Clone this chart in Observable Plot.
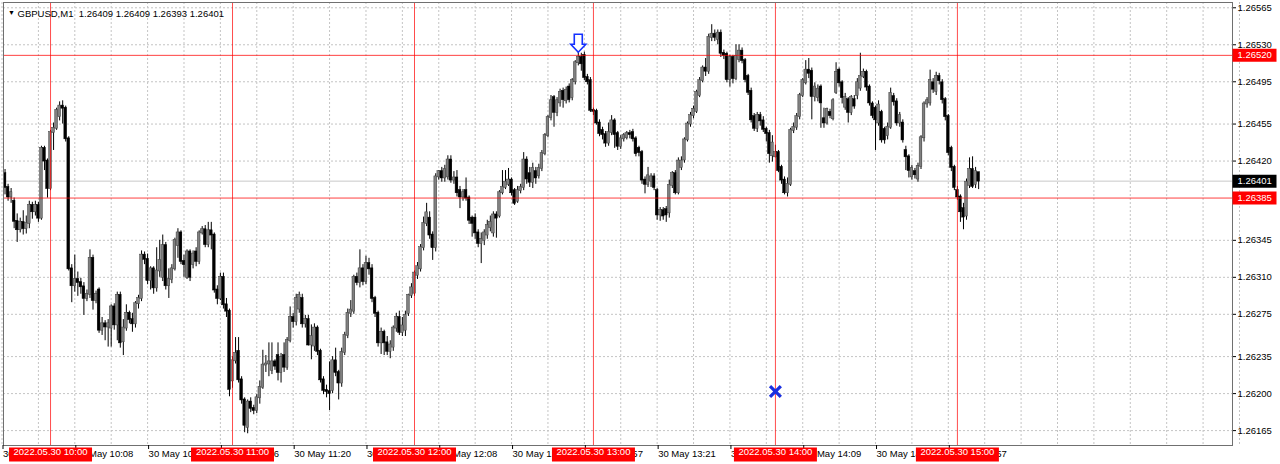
<!DOCTYPE html>
<html><head><meta charset="utf-8">
<script src="https://cdn.jsdelivr.net/npm/d3@7"></script>
<script src="https://cdn.jsdelivr.net/npm/@observablehq/plot@0.6"></script>
<style>
html,body{margin:0;padding:0;background:#fff;}
#chart svg{display:block;}
</style></head><body><div id="chart"></div>
<script>
// GBPUSD M1 bars, 30 May 2022 09:44 .. 15:07 (bar index 0 = 09:44)
const open = [
1.26425,1.26408,1.26395,1.26386,1.26382,1.26363,1.26355,1.26362,1.26356,1.26361,
1.26378,1.26372,1.26378,1.26366,1.26432,1.26420,1.26394,1.26447,1.26451,1.26462,
1.26472,1.26470,1.26441,1.26318,1.26302,1.26308,1.26305,1.26301,1.26290,1.26294,
1.26328,1.26288,1.26298,1.26260,1.26266,1.26263,1.26262,1.26282,1.26265,1.26293,
1.26249,1.26262,1.26276,1.26270,1.26266,1.26285,1.26290,1.26331,1.26327,1.26307,
1.26318,1.26300,1.26316,1.26310,1.26340,1.26302,1.26308,1.26318,1.26340,1.26352,
1.26325,1.26310,1.26334,1.26322,1.26334,1.26325,1.26352,1.26355,1.26341,1.26354,
1.26350,1.26298,1.26290,1.26310,1.26284,1.26278,1.26212,1.26231,1.26240,1.26213,
1.26194,1.26168,1.26192,1.26186,1.26184,1.26196,1.26206,1.26227,1.26228,1.26222,
1.26230,1.26236,1.26220,1.26236,1.26225,1.26250,1.26272,1.26268,1.26280,1.26290,
1.26266,1.26270,1.26246,1.26245,1.26262,1.26240,1.26213,1.26203,1.26202,1.26203,
1.26231,1.26220,1.26210,1.26239,1.26255,1.26276,1.26278,1.26310,1.26305,1.26318,
1.26306,1.26323,1.26318,1.26290,1.26276,1.26248,1.26258,1.26248,1.26240,1.26244,
1.26262,1.26272,1.26258,1.26260,1.26276,1.26293,1.26295,1.26312,1.26318,1.26338,
1.26361,1.26366,1.26350,1.26338,1.26405,1.26410,1.26404,1.26405,1.26421,1.26402,
1.26404,1.26392,1.26386,1.26392,1.26385,1.26366,1.26366,1.26352,1.26342,1.26345,
1.26350,1.26357,1.26352,1.26369,1.26368,1.26390,1.26395,1.26398,1.26402,1.26392,
1.26382,1.26392,1.26395,1.26421,1.26408,1.26400,1.26410,1.26406,1.26413,1.26427,
1.26444,1.26461,1.26480,1.26466,1.26475,1.26486,1.26477,1.26490,1.26480,1.26495,
1.26513,1.26518,1.26520,1.26499,1.26496,1.26468,1.26467,1.26456,1.26449,1.26445,
1.26437,1.26447,1.26458,1.26446,1.26434,1.26441,1.26442,1.26446,1.26447,1.26441,
1.26432,1.26428,1.26402,1.26398,1.26401,1.26405,1.26392,1.26369,1.26373,1.26374,
1.26371,1.26397,1.26408,1.26390,1.26414,1.26421,1.26440,1.26455,1.26463,1.26467,
1.26482,1.26496,1.26508,1.26505,1.26537,1.26540,1.26535,1.26541,1.26522,1.26521,
1.26497,1.26518,1.26498,1.26516,1.26524,1.26515,1.26500,1.26486,1.26462,1.26451,
1.26463,1.26458,1.26450,1.26446,1.26425,1.26424,1.26428,1.26414,1.26402,1.26390,
1.26398,1.26449,1.26452,1.26462,1.26482,1.26494,1.26506,1.26505,1.26481,1.26480,
1.26490,1.26460,1.26456,1.26466,1.26460,1.26485,1.26506,1.26494,1.26471,1.26478,
1.26466,1.26478,1.26482,1.26489,1.26500,1.26504,1.26490,1.26474,1.26470,1.26456,
1.26466,1.26450,1.26444,1.26452,1.26481,1.26476,1.26456,1.26456,1.26430,1.26424,
1.26405,1.26410,1.26403,1.26415,1.26442,1.26474,1.26475,1.26494,1.26486,1.26500,
1.26494,1.26478,1.26462,1.26432,1.26414,1.26392,1.26386,1.26375,1.26368,1.26397,
1.26412,1.26398,1.26409];
const high = [
1.26432,1.26412,1.26398,1.26394,1.26385,1.26370,1.26366,1.26373,1.26368,1.26382,
1.26381,1.26382,1.26381,1.26434,1.26434,1.26422,1.26449,1.26456,1.26470,1.26476,
1.26477,1.26472,1.26443,1.26322,1.26331,1.26315,1.26309,1.26305,1.26298,1.26336,
1.26331,1.26297,1.26300,1.26272,1.26269,1.26270,1.26284,1.26285,1.26296,1.26296,
1.26270,1.26284,1.26278,1.26276,1.26287,1.26293,1.26335,1.26334,1.26332,1.26320,
1.26320,1.26338,1.26345,1.26350,1.26343,1.26318,1.26322,1.26347,1.26356,1.26354,
1.26331,1.26336,1.26336,1.26335,1.26338,1.26354,1.26358,1.26359,1.26362,1.26362,
1.26352,1.26302,1.26314,1.26314,1.26290,1.26280,1.26235,1.26253,1.26253,1.26216,
1.26196,1.26194,1.26196,1.26189,1.26199,1.26212,1.26241,1.26236,1.26248,1.26248,
1.26232,1.26248,1.26238,1.26248,1.26253,1.26282,1.26276,1.26294,1.26296,1.26294,
1.26274,1.26274,1.26265,1.26266,1.26264,1.26242,1.26216,1.26208,1.26230,1.26235,
1.26243,1.26222,1.26243,1.26258,1.26280,1.26288,1.26312,1.26314,1.26336,1.26322,
1.26330,1.26328,1.26322,1.26292,1.26278,1.26262,1.26260,1.26254,1.26250,1.26264,
1.26276,1.26278,1.26272,1.26278,1.26294,1.26304,1.26316,1.26324,1.26341,1.26367,
1.26380,1.26372,1.26353,1.26408,1.26411,1.26414,1.26416,1.26425,1.26425,1.26410,
1.26411,1.26396,1.26393,1.26404,1.26387,1.26368,1.26370,1.26355,1.26352,1.26355,
1.26364,1.26368,1.26372,1.26372,1.26392,1.26411,1.26411,1.26413,1.26404,1.26394,
1.26396,1.26398,1.26428,1.26424,1.26414,1.26418,1.26414,1.26417,1.26430,1.26446,
1.26463,1.26482,1.26482,1.26480,1.26488,1.26489,1.26490,1.26493,1.26498,1.26515,
1.26523,1.26522,1.26523,1.26502,1.26499,1.26470,1.26469,1.26459,1.26452,1.26448,
1.26456,1.26463,1.26460,1.26448,1.26444,1.26446,1.26448,1.26449,1.26450,1.26443,
1.26434,1.26430,1.26405,1.26414,1.26408,1.26408,1.26394,1.26376,1.26376,1.26377,
1.26402,1.26410,1.26411,1.26423,1.26424,1.26442,1.26457,1.26466,1.26472,1.26487,
1.26499,1.26510,1.26517,1.26540,1.26549,1.26544,1.26544,1.26544,1.26525,1.26523,
1.26520,1.26520,1.26530,1.26530,1.26527,1.26517,1.26502,1.26489,1.26465,1.26466,
1.26466,1.26462,1.26452,1.26449,1.26444,1.26435,1.26430,1.26416,1.26405,1.26404,
1.26451,1.26456,1.26465,1.26484,1.26498,1.26515,1.26517,1.26508,1.26494,1.26492,
1.26492,1.26470,1.26470,1.26469,1.26479,1.26513,1.26508,1.26496,1.26484,1.26480,
1.26482,1.26482,1.26498,1.26522,1.26507,1.26506,1.26492,1.26476,1.26472,1.26477,
1.26468,1.26452,1.26456,1.26489,1.26484,1.26479,1.26466,1.26459,1.26434,1.26426,
1.26416,1.26413,1.26418,1.26444,1.26476,1.26480,1.26506,1.26498,1.26504,1.26503,
1.26497,1.26480,1.26464,1.26434,1.26416,1.26396,1.26388,1.26380,1.26403,1.26423,
1.26424,1.26414,1.26409];
const low = [
1.26405,1.26388,1.26382,1.26380,1.26356,1.26343,1.26352,1.26350,1.26351,1.26356,
1.26365,1.26368,1.26362,1.26364,1.26411,1.26385,1.26392,1.26430,1.26449,1.26458,
1.26455,1.26438,1.26316,1.26286,1.26296,1.26292,1.26294,1.26274,1.26287,1.26290,
1.26279,1.26285,1.26257,1.26255,1.26250,1.26244,1.26244,1.26260,1.26250,1.26243,
1.26236,1.26259,1.26266,1.26258,1.26262,1.26280,1.26287,1.26322,1.26303,1.26298,
1.26294,1.26296,1.26310,1.26306,1.26298,1.26290,1.26304,1.26316,1.26328,1.26322,
1.26310,1.26308,1.26306,1.26318,1.26320,1.26322,1.26350,1.26338,1.26338,1.26336,
1.26295,1.26284,1.26288,1.26280,1.26272,1.26197,1.26205,1.26228,1.26210,1.26190,
1.26163,1.26162,1.26182,1.26180,1.26181,1.26190,1.26204,1.26220,1.26216,1.26218,
1.26222,1.26212,1.26210,1.26220,1.26222,1.26248,1.26262,1.26264,1.26276,1.26262,
1.26262,1.26245,1.26232,1.26240,1.26236,1.26210,1.26199,1.26196,1.26184,1.26200,
1.26216,1.26194,1.26206,1.26236,1.26252,1.26272,1.26275,1.26302,1.26300,1.26302,
1.26303,1.26312,1.26286,1.26272,1.26244,1.26237,1.26236,1.26236,1.26233,1.26240,
1.26258,1.26255,1.26254,1.26254,1.26273,1.26290,1.26292,1.26308,1.26315,1.26335,
1.26358,1.26346,1.26326,1.26334,1.26402,1.26400,1.26400,1.26402,1.26399,1.26398,
1.26386,1.26375,1.26382,1.26382,1.26360,1.26348,1.26346,1.26338,1.26323,1.26340,
1.26346,1.26353,1.26348,1.26347,1.26366,1.26388,1.26393,1.26396,1.26387,1.26378,
1.26380,1.26389,1.26392,1.26398,1.26395,1.26394,1.26398,1.26403,1.26410,1.26425,
1.26442,1.26458,1.26452,1.26462,1.26471,1.26470,1.26474,1.26475,1.26477,1.26492,
1.26510,1.26505,1.26496,1.26492,1.26466,1.26463,1.26454,1.26443,1.26440,1.26433,
1.26434,1.26444,1.26432,1.26430,1.26431,1.26438,1.26440,1.26441,1.26438,1.26424,
1.26424,1.26398,1.26389,1.26395,1.26395,1.26392,1.26364,1.26363,1.26364,1.26362,
1.26366,1.26394,1.26388,1.26388,1.26411,1.26418,1.26438,1.26452,1.26460,1.26465,
1.26480,1.26494,1.26500,1.26502,1.26533,1.26533,1.26530,1.26518,1.26516,1.26494,
1.26490,1.26493,1.26496,1.26513,1.26512,1.26494,1.26482,1.26456,1.26448,1.26447,
1.26453,1.26447,1.26438,1.26418,1.26419,1.26423,1.26409,1.26398,1.26388,1.26386,
1.26396,1.26446,1.26449,1.26459,1.26480,1.26492,1.26498,1.26459,1.26476,1.26476,
1.26451,1.26451,1.26454,1.26460,1.26458,1.26483,1.26490,1.26474,1.26468,1.26456,
1.26463,1.26469,1.26478,1.26486,1.26498,1.26486,1.26472,1.26460,1.26430,1.26453,
1.26437,1.26436,1.26440,1.26450,1.26472,1.26453,1.26452,1.26437,1.26411,1.26404,
1.26402,1.26403,1.26400,1.26412,1.26438,1.26470,1.26472,1.26484,1.26482,1.26492,
1.26474,1.26458,1.26425,1.26410,1.26392,1.26383,1.26362,1.26355,1.26364,1.26394,
1.26394,1.26394,1.26393];
const close = [
1.26410,1.26395,1.26386,1.26390,1.26363,1.26355,1.26362,1.26356,1.26361,1.26378,
1.26372,1.26378,1.26366,1.26432,1.26420,1.26394,1.26447,1.26451,1.26468,1.26472,
1.26470,1.26441,1.26318,1.26302,1.26308,1.26305,1.26301,1.26290,1.26294,1.26328,
1.26288,1.26294,1.26260,1.26266,1.26263,1.26266,1.26282,1.26265,1.26293,1.26248,
1.26262,1.26276,1.26270,1.26266,1.26285,1.26290,1.26331,1.26327,1.26307,1.26318,
1.26300,1.26316,1.26326,1.26340,1.26302,1.26308,1.26318,1.26345,1.26352,1.26325,
1.26322,1.26334,1.26310,1.26332,1.26325,1.26352,1.26355,1.26341,1.26354,1.26350,
1.26298,1.26290,1.26310,1.26284,1.26278,1.26204,1.26231,1.26238,1.26213,1.26194,
1.26170,1.26192,1.26186,1.26184,1.26196,1.26206,1.26227,1.26228,1.26230,1.26230,
1.26226,1.26220,1.26234,1.26225,1.26250,1.26272,1.26268,1.26290,1.26293,1.26266,
1.26270,1.26246,1.26254,1.26262,1.26240,1.26213,1.26203,1.26202,1.26200,1.26231,
1.26220,1.26210,1.26239,1.26255,1.26276,1.26279,1.26310,1.26305,1.26318,1.26306,
1.26323,1.26318,1.26290,1.26276,1.26248,1.26258,1.26248,1.26240,1.26246,1.26262,
1.26272,1.26258,1.26264,1.26274,1.26293,1.26300,1.26314,1.26320,1.26338,1.26361,
1.26371,1.26350,1.26338,1.26405,1.26410,1.26404,1.26412,1.26421,1.26402,1.26404,
1.26390,1.26386,1.26390,1.26385,1.26364,1.26361,1.26352,1.26342,1.26346,1.26352,
1.26359,1.26362,1.26369,1.26366,1.26390,1.26395,1.26400,1.26402,1.26390,1.26380,
1.26392,1.26395,1.26421,1.26403,1.26400,1.26413,1.26404,1.26413,1.26427,1.26444,
1.26461,1.26477,1.26466,1.26477,1.26485,1.26478,1.26487,1.26478,1.26496,1.26513,
1.26518,1.26512,1.26499,1.26495,1.26468,1.26467,1.26456,1.26446,1.26445,1.26437,
1.26447,1.26458,1.26445,1.26434,1.26441,1.26444,1.26446,1.26445,1.26441,1.26427,
1.26428,1.26402,1.26398,1.26406,1.26405,1.26395,1.26369,1.26373,1.26368,1.26369,
1.26397,1.26408,1.26390,1.26420,1.26420,1.26440,1.26455,1.26463,1.26469,1.26485,
1.26496,1.26508,1.26505,1.26537,1.26540,1.26537,1.26541,1.26522,1.26520,1.26497,
1.26518,1.26498,1.26519,1.26524,1.26515,1.26497,1.26485,1.26459,1.26451,1.26463,
1.26458,1.26450,1.26446,1.26427,1.26437,1.26428,1.26411,1.26402,1.26390,1.26398,
1.26449,1.26452,1.26462,1.26482,1.26496,1.26506,1.26503,1.26481,1.26490,1.26488,
1.26475,1.26456,1.26469,1.26463,1.26477,1.26504,1.26494,1.26480,1.26480,1.26466,
1.26480,1.26472,1.26494,1.26500,1.26504,1.26490,1.26475,1.26463,1.26459,1.26473,
1.26440,1.26440,1.26452,1.26484,1.26476,1.26456,1.26463,1.26440,1.26424,1.26411,
1.26413,1.26407,1.26415,1.26442,1.26474,1.26477,1.26496,1.26488,1.26500,1.26496,
1.26478,1.26462,1.26428,1.26414,1.26395,1.26386,1.26372,1.26367,1.26400,1.26412,
1.26396,1.26410,1.26401];

const symbolName = "GBPUSD,M1";
const xTickBars = [0, 24, 48, 72, 96, 120, 144, 168, 192, 216, 240, 264, 288, 312];
const xTickLabels = ["30 May 09:44","30 May 10:08","30 May 10:32","30 May 10:56","30 May 11:20","30 May 11:44",
  "30 May 12:08","30 May 12:32","30 May 12:57","30 May 13:21","30 May 13:45","30 May 14:09","30 May 14:33","30 May 14:57"];
const yTicks = [1.26565, 1.26530, 1.26495, 1.26455, 1.26420, 1.26345, 1.26310, 1.26275, 1.26235, 1.26200, 1.26165];
const hLevels = [1.26520, 1.26385];
const bidPrice = 1.26401;
const vLineBars = [16, 76, 136, 195, 255, 315];
const vLineLabels = ["2022.05.30 10:00","2022.05.30 11:00","2022.05.30 12:00","2022.05.30 13:00","2022.05.30 14:00","2022.05.30 15:00"];
const arrowBars = [190];
const crossMarks = [{bar: 255, price: 1.26202}];

const bars = open.map((o, i) => ({i, o, h: high[i], l: low[i], c: close[i]}));
const last = bars[bars.length - 1];
const header = `${symbolName}  ${last.o.toFixed(5)} ${last.h.toFixed(5)} ${last.l.toFixed(5)} ${last.c.toFixed(5)}`;
const tickLabel = new Map(xTickBars.map((b, k) => [b, xTickLabels[k]]));
const gridBars = d3.range(0, 410, 12);

const boxSym = (w, h) => ({draw(ctx) { ctx.moveTo(-w/2, -h/2); ctx.lineTo(w/2, -h/2); ctx.lineTo(w/2, h/2); ctx.lineTo(-w/2, h/2); ctx.closePath(); }});
const arrowSym = {draw(ctx) {
  ctx.moveTo(0, 0); ctx.lineTo(-7.5, -8); ctx.lineTo(-4, -8); ctx.lineTo(-4, -18);
  ctx.lineTo(4, -18); ctx.lineTo(4, -8); ctx.lineTo(7.5, -8); ctx.closePath(); }};

const FONT = "Liberation Sans, Arial, sans-serif";
const chart = Plot.plot({
  width: 1280, height: 464,
  marginTop: 2, marginRight: 48, marginBottom: 19, marginLeft: 3,
  style: {fontFamily: FONT, fontSize: "9.5px", background: "#fff", color: "#000", overflow: "visible"},
  x: {type: "linear", domain: [0.49, 405.7], axis: null},
  y: {domain: [1.261509, 1.265700], axis: null},
  marks: [
    Plot.gridX(gridBars, {stroke: "#c4c4c4", strokeOpacity: 1, strokeDasharray: "2,2"}),
    Plot.gridY(yTicks, {stroke: "#c4c4c4", strokeOpacity: 1, strokeDasharray: "2,2"}),
    Plot.ruleY([bidPrice], {stroke: "#c8c8c8", strokeWidth: 1}),
    Plot.ruleX(bars, {x: "i", y1: "l", y2: "h", stroke: "#000", strokeWidth: 1, clip: true}),
    Plot.rect(bars, {x1: d => d.i - 0.44, x2: d => d.i + 0.44, y1: "o", y2: "c",
      fill: d => d.c > d.o ? "#808080" : "#000", stroke: d => d.c > d.o ? "#3a3a3a" : "#000", strokeWidth: 0.5,
      insetTop: -0.5, insetBottom: -0.5, clip: true}),
    Plot.ruleY(hLevels, {stroke: "#ff0000", strokeOpacity: 0.75, strokeWidth: 1}),
    Plot.ruleX(vLineBars, {stroke: "#ff0000", strokeOpacity: 0.7, strokeWidth: 1}),
    Plot.dot(arrowBars, {x: d => d, y: d => high[d], symbol: arrowSym, r: 5, stroke: "#1430ff", fill: "#fff", strokeWidth: 1.6}),
    Plot.dot(crossMarks, {x: "bar", y: "price", symbol: "times", r: 5, stroke: "#1a2fe0", strokeWidth: 3.2}),
    Plot.frame({stroke: "#707070"}),
    // right price axis
    Plot.axisY(yTicks, {anchor: "right", tickSize: 3, tickPadding: 2, tickFormat: d => d.toFixed(5), fontSize: 9.5, fill: "#000", stroke: "#000"}),
    Plot.dot(hLevels, {y: d => d, frameAnchor: "right", dx: 22, symbol: boxSym(44, 13), r: 5, fill: "#ff0000", stroke: "none"}),
    Plot.text(hLevels, {y: d => d, frameAnchor: "right", dx: 5, textAnchor: "start", text: d => d.toFixed(5), fill: "#fff", fontSize: 9.5}),
    Plot.dot([bidPrice], {y: d => d, frameAnchor: "right", dx: 22, symbol: boxSym(44, 13), r: 5, fill: "#000", stroke: "none"}),
    Plot.text([bidPrice], {y: d => d, frameAnchor: "right", dx: 5, textAnchor: "start", text: d => d.toFixed(5), fill: "#fff", fontSize: 9.5}),
    // bottom time axis
    Plot.axisX(xTickBars, {anchor: "bottom", tickSize: 4, tickPadding: 1, textAnchor: "start", dx: 1, tickFormat: d => tickLabel.get(d), fontSize: 9.5, fill: "#000", stroke: "#000"}),
    Plot.dot(vLineBars, {x: d => d, frameAnchor: "bottom", dy: 9, symbol: boxSym(83, 14), r: 5, fill: "#ff0000", stroke: "none"}),
    Plot.text(vLineBars, {x: d => d, frameAnchor: "bottom", dy: 9, text: (d, k) => vLineLabels[k], fill: "#fff", fontSize: 9.5}),
    // header
    Plot.text(["\u25BC"], {frameAnchor: "top-left", dx: 4.5, dy: 7.5, text: d => d, fontSize: 7, fill: "#000"}),
    Plot.text([header], {frameAnchor: "top-left", dx: 14, dy: 7.5, textAnchor: "start", text: d => d, fontSize: 9.5, fill: "#000"})
  ]
});
document.getElementById("chart").appendChild(chart);
</script></body></html>
